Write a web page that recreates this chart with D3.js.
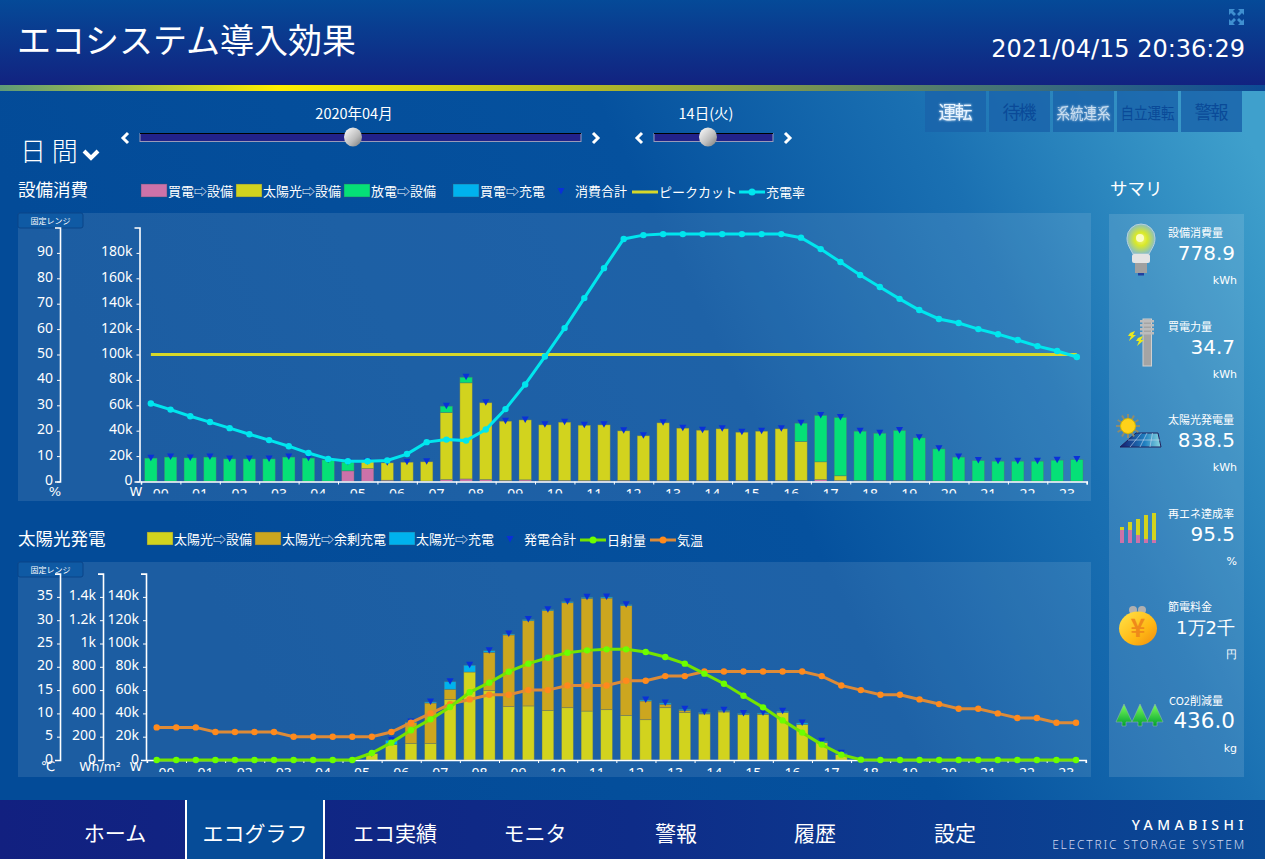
<!DOCTYPE html>
<html>
<head>
<meta charset="utf-8">
<script src="https://cdn.jsdelivr.net/npm/d3@7"></script>
<style>
  html, body { margin: 0; padding: 0; overflow: hidden; background: #034b98; }
  svg { display: block; }
  text { fill: #fff; font-family: "Noto Sans CJK JP", "Noto Sans", sans-serif; }
  .num { font-family: "DejaVu Sans", sans-serif; }
  .axis text { font-family: "Noto Sans", sans-serif; font-size: 14px; fill: #fff; }
  .axis path, .axis line { stroke: #fff; }
  .axis path { stroke-width: 1.6px; }
</style>
</head>
<body>
<svg id="page" width="1265" height="859"></svg>
<script>
// half hour slots, values in W
const hours = ["00","01","02","03","04","05","06","07","08","09","10","11","12","13","14","15","16","17","18","19","20","21","22","23"];
const slots = d3.range(48);

// 設備消費
const gridToEquip = [200,200,200,200,200,200,200,200,200,200,8400,10200,1000,500,300,1500,2000,1500,800,1300,800,800,700,800,900,800,800,700,800,800,800,800,800,800,1500,800,800,800,800,800,400,300,200,200,200,200,200,200];
const solarToEquip = [0,0,0,0,0,0,0,0,0,0,0,5300,13700,14700,15200,52800,75700,60500,46700,47200,43800,45900,43600,43800,39000,35200,45400,41300,39600,40700,38000,38800,40700,30700,14000,3700,0,0,0,0,0,0,0,0,0,0,0,0];
const dischargeToEquip = [18200,19000,18400,19000,17600,17600,17600,19000,18200,16800,6800,0,0,0,0,5000,4400,0,0,0,0,0,0,0,0,0,0,0,0,0,0,0,0,14400,36500,45900,38800,37200,39400,33600,25300,18900,16300,15800,15800,15800,16600,17100];
const gridToCharge = [0,0,0,0,0,0,0,0,0,0,0,0,0,0,0,0,0,0,0,0,0,0,0,0,0,0,0,0,0,0,0,0,0,0,0,0,0,0,0,0,0,0,0,0,0,0,0,0];
const chargeRate = [30.7,28.3,25.7,23.4,21,18.6,16.3,13.9,11.2,8.9,8,8,8.3,10.8,15.5,16.5,16.1,20.5,28.5,38.2,49.2,60.4,72.2,84,95.5,97,97.4,97.4,97.4,97.4,97.4,97.4,97.4,96,91.5,86.4,81.3,76.6,71.9,67.5,64,62.4,60,58,55.7,53.3,51.4,49];
const peakCut = 100000;

// 太陽光発電
const solarEquip = [0,0,0,0,0,0,0,0,0,0,0,5400,13200,14300,14300,52000,75500,59500,45800,46400,42600,44900,42000,43200,38300,34600,44900,40900,39500,41200,38900,39200,40900,30600,14900,4600,0,0,0,0,0,0,0,0,0,0,0,0];
const solarSurplus = [0,0,0,0,0,0,0,0,0,0,0,0,0,17800,34600,8700,0,32900,61500,73200,85600,90100,96800,95800,94200,16000,2900,1700,500,700,300,200,0,0,0,0,0,0,0,0,0,0,0,0,0,0,0,0];
const solarCharge = [0,0,0,0,0,0,0,0,0,0,0,0,3700,500,900,6500,5800,1400,800,900,800,900,800,900,800,900,1100,900,900,700,800,900,900,1200,1100,1100,0,0,0,0,0,0,0,0,0,0,0,0];
const irradiance = [0,0,0,0,0,0,0,0,0,0,0,60,149,255,349,455,581,664,758,827,878,921,941,950,950,927,884,827,741,655,552,452,340,235,132,46,3,0,0,0,0,0,0,0,0,0,0,0];
const temperature = [7,7,7,6,6,6,6,5,5,5,5,5,6,8,10,12,13,14,14,15,15,16,16,16,17,17,18,18,19,19,19,19,19,19,18,16,15,14,14,13,12,11,11,10,9,9,8,8];

// tick labels
const wattTicksTop = [0,20000,40000,60000,80000,100000,120000,140000,160000,180000];
const percentTicks = [0,10,20,30,40,50,60,70,80,90];
const wattTicksBottom = [0,20000,40000,60000,80000,100000,120000,140000];
const irradianceTicks = [0,200,400,600,800,1000,1200,1400];
const temperatureTicks = [0,5,10,15,20,25,30,35];

const summaryLabels = ["設備消費量","買電力量","太陽光発電量","再エネ達成率","節電料金","CO2削減量"];
const summaryValues = ["778.9","34.7","838.5","95.5","1万2千","436.0"];
const summaryUnits = ["kWh","kWh","kWh","%","円","kg"];
const navLabels = ["ホーム","エコグラフ","エコ実績","モニタ","警報","履歴","設定"];

const colors = { pink: "#cd72a9", yellow: "#d2d31e", green: "#05e077", blue: "#00b2ee", amber: "#cca61f", tri: "#0a30d8", cyan: "#00e6ee", peak: "#d6d82a", lime: "#75e400", limeDot: "#6cff00", orange: "#dd8b38", orangeDot: "#ff8a1c" };

const svg = d3.select("#page");
const defs = svg.append("defs");

function gradient(id, x1, y1, x2, y2, stops) {
  const g = defs.append("linearGradient").attr("id", id)
    .attr("x1", x1).attr("y1", y1).attr("x2", x2).attr("y2", y2);
  stops.forEach(s => g.append("stop").attr("offset", s[0]).attr("stop-color", s[1]));
}
gradient("bg", 0.1, 0.5, 1, 0.2, [[0, "#034b98"], [0.5, "#05519e"], [0.75, "#1a70b2"], [1, "#3fa0cc"]]);
gradient("head", 0, 0, 0, 1, [[0, "#054a98"], [1, "#122280"]]);
gradient("stripe", 0, 0, 1, 0, [[0, "#5f9a78"], [0.22, "#ffee00"], [0.45, "#b8bc22"], [0.75, "#4f7a70"], [1, "#0c4a96"]]);
gradient("foot", 0, 0, 1, 0, [[0, "#122080"], [0.5, "#0e2c88"], [1, "#0a4a96"]]);
gradient("knob", 0, 0, 1, 1, [[0, "#fff"], [0.6, "#bbb"], [1, "#777"]]);
gradient("coin", 0, 0, 1, 1, [[0, "#ffe44a"], [0.6, "#ffb814"], [1, "#f08a10"]]);
gradient("tree", 0, 0, 0, 1, [[0, "#7dff5a"], [1, "#00a030"]]);
gradient("panelCell", 0, 0, 1, 0, [[0, "#141a6e"], [0.6, "#1f7fc0"], [1, "#8ad8e0"]]);
const bulbGlow = defs.append("radialGradient").attr("id", "bulbGlow");
bulbGlow.append("stop").attr("offset", 0).attr("stop-color", "#f6f880");
bulbGlow.append("stop").attr("offset", 0.45).attr("stop-color", "#d8e82a");
bulbGlow.append("stop").attr("offset", 1).attr("stop-color", "#8cc0c0");
const glow = defs.append("filter").attr("id", "glow");
glow.append("feGaussianBlur").attr("stdDeviation", 1.1).attr("result", "b");
const glowMerge = glow.append("feMerge");
glowMerge.append("feMergeNode").attr("in", "b");
glowMerge.append("feMergeNode").attr("in", "SourceGraphic");

// page background, header, footer
svg.append("rect").attr("width", 1265).attr("height", 859).attr("fill", "url(#bg)");
svg.append("rect").attr("width", 1265).attr("height", 86).attr("fill", "url(#head)");
svg.append("rect").attr("y", 85).attr("width", 1265).attr("height", 6).attr("fill", "url(#stripe)");
svg.append("text").attr("x", 17).attr("y", 53).attr("font-size", 34).attr("font-weight", 400).text("エコシステム導入効果");
svg.append("text").attr("class", "num").attr("x", 1245).attr("y", 57).attr("text-anchor", "end").attr("font-size", 24).text("2021/04/15 20:36:29");

// expand icon
[[1229, 9, 1], [1244, 9, -1], [1229, 25, 1], [1244, 25, -1]].forEach(c => {
  const sy = c[1] < 15 ? 1 : -1;
  svg.append("path")
    .attr("d", `M${c[0]} ${c[1]}h${6 * c[2]}l${-2 * c[2]} ${2 * sy}l${3 * c[2]} ${3 * sy}l${-2 * c[2]} ${2 * sy}l${-3 * c[2]} ${-3 * sy}l${-2 * c[2]} ${2 * sy}z`)
    .attr("fill", "#3f8fd0");
});

// status buttons
const statusButtons = [["運転", true], ["待機", false], ["系統連系", true], ["自立運転", false], ["警報", false]];
statusButtons.forEach((b, i) => {
  const x = 925 + i * 64;
  svg.append("rect").attr("x", x).attr("y", 91).attr("width", 61).attr("height", 41).attr("fill", "#1a64aa").attr("opacity", 0.85);
  const t = svg.append("text").attr("x", x + 30.5).attr("y", 119).attr("text-anchor", "middle")
    .attr("font-size", b[0].length > 2 ? 16 : 18)
    .attr("textLength", b[0].length > 2 ? 54 : 34)
    .attr("lengthAdjust", b[0].length > 2 ? "spacingAndGlyphs" : "spacing")
    .text(b[0]);
  if (b[1]) t.attr("filter", "url(#glow)").style("fill", i === 0 ? "#e8f4ff" : "#c8ddf0");
  else t.style("fill", "#0a4a98");
});

// period selector
function chevron(x, y, dir) {
  svg.append("path").attr("d", `M${x - 3 * dir} ${y - 5}L${x + 2 * dir} ${y}L${x - 3 * dir} ${y + 5}`)
    .attr("fill", "none").attr("stroke", "#fff").attr("stroke-width", 3);
}
function slider(x0, x1, knob, label, labelX) {
  svg.append("rect").attr("x", x0).attr("y", 133.5).attr("width", x1 - x0).attr("height", 8).attr("fill", "#22228a").attr("stroke", "#9a9ab8");
  svg.append("line").attr("x1", x0).attr("x2", x1).attr("y1", 133.5).attr("y2", 133.5).attr("stroke", "#000");
  svg.append("ellipse").attr("cx", knob).attr("cy", 137).attr("rx", 9).attr("ry", 9.5).attr("fill", "url(#knob)");
  svg.append("text").attr("x", labelX).attr("y", 119).attr("text-anchor", "middle").attr("font-size", 14.5).text(label);
  chevron(x0 - 15, 138, -1);
  chevron(x1 + 15, 138, 1);
}
slider(140, 581, 353, "2020年04月", 354);
slider(654, 773, 708, "14日(火)", 706);
svg.append("text").attr("x", 20).attr("y", 161).attr("font-size", 26).attr("font-weight", 300).text("日 間");
svg.append("path").attr("d", "M84 151L91 158L98 151").attr("fill", "none").attr("stroke", "#fff").attr("stroke-width", 4);

svg.append("text").attr("x", 18).attr("y", 196).attr("font-size", 17.5).text("設備消費");
svg.append("text").attr("x", 18).attr("y", 545).attr("font-size", 17.5).text("太陽光発電");
svg.append("text").attr("x", 1110).attr("y", 195).attr("font-size", 17.5).text("サマリ");

// legends
function swatch(x, y, color, label) {
  svg.append("rect").attr("x", x).attr("y", y - 7).attr("width", 26).attr("height", 13).attr("fill", color).attr("stroke", "rgba(60,80,110,.45)");
  svg.append("text").attr("x", x + 27).attr("y", y + 5).attr("font-size", 13).text(label);
}
function triMark(g, x, y) {
  g.append("path").attr("d", `M${x - 3.5} ${y - 3}h7l-3.5 6.5z`).attr("fill", colors.tri);
}
function lineKey(x, y, color, dot, label) {
  svg.append("line").attr("x1", x).attr("x2", x + 26).attr("y1", y).attr("y2", y).attr("stroke", color).attr("stroke-width", 3);
  if (dot) svg.append("circle").attr("cx", x + 13).attr("cy", y).attr("r", 3.5).attr("fill", dot);
  svg.append("text").attr("x", x + 27).attr("y", y + 5).attr("font-size", 13).text(label);
}
swatch(141, 191, colors.pink, "買電⇨設備");
swatch(236, 191, colors.yellow, "太陽光⇨設備");
swatch(344, 191, colors.green, "放電⇨設備");
swatch(453, 191, colors.blue, "買電⇨充電");
triMark(svg, 561, 191);
svg.append("text").attr("x", 575).attr("y", 196).attr("font-size", 13).text("消費合計");
lineKey(632, 192, colors.peak, null, "ピークカット");
lineKey(739, 192, colors.cyan, colors.cyan, "充電率");

swatch(147, 539, colors.yellow, "太陽光⇨設備");
swatch(255, 539, colors.amber, "太陽光⇨余剰充電");
swatch(389, 539, colors.blue, "太陽光⇨充電");
triMark(svg, 510, 539);
svg.append("text").attr("x", 524).attr("y", 544).attr("font-size", 13).text("発電合計");
lineKey(580, 540, colors.lime, colors.limeDot, "日射量");
lineKey(650, 540, colors.orange, colors.orangeDot, "気温");

function rangeButton(y) {
  svg.append("rect").attr("x", 18).attr("y", y).attr("width", 65).attr("height", 15).attr("rx", 2)
    .attr("fill", "#0f5aa4").attr("stroke", "#0a4488");
  svg.append("text").attr("x", 50.5).attr("y", y + 11).attr("text-anchor", "middle").attr("font-size", 8).text("固定レンジ");
}

const wattFormat = d => d === 0 ? "0" : d / 1000 + "k";

function leftAxis(x, scale, values, format) {
  svg.append("g").attr("class", "axis").attr("transform", `translate(${x},0)`)
    .call(d3.axisLeft(scale).tickValues(values).tickSize(3).tickSizeOuter(5).tickPadding(4).tickFormat(format))
    .call(g => g.selectAll(".tick text").attr("dy", "0.22em"));
}

// one stacked bar chart with its x axis, returns the slot scale for the lines
function barChart(id, xStart, xEnd, baseY, yScale, series, barPadding) {
  const xBand = d3.scaleBand().domain(slots).range([xStart, xEnd]).paddingInner(barPadding).paddingOuter(barPadding / 2);
  const rows = slots.map(i => {
    const row = { slot: i };
    series.forEach(s => { row[s.key] = s.values[i]; });
    return row;
  });
  const stacked = d3.stack().keys(series.map(s => s.key))(rows);

  svg.append("g").selectAll("g").data(stacked).enter().append("g")
    .attr("fill", (d, i) => series[i].color)
    .selectAll("rect").data(d => d.filter(p => p[1] > p[0])).enter().append("rect")
    .attr("x", d => xBand(d.data.slot))
    .attr("y", d => yScale(d[1]))
    .attr("width", xBand.bandwidth())
    .attr("height", d => yScale(d[0]) - yScale(d[1]))
    .attr("stroke", "rgba(90,110,110,.55)")
    .attr("stroke-width", 0.7);

  // total markers
  const tri = svg.append("g");
  rows.forEach(r => {
    const total = d3.sum(series, s => r[s.key]);
    if (total > 0) triMark(tri, xBand(r.slot) + xBand.bandwidth() / 2, yScale(total) - 0.5);
  });

  // x axis: hour ticks on a linear scale, labels centered in each hour
  const xHour = d3.scaleLinear().domain([0, 24]).range([xStart, xEnd]);
  svg.append("g").attr("class", "axis").attr("transform", `translate(0,${baseY})`)
    .call(d3.axisBottom(xHour).tickValues(d3.range(0, 25)).tickSize(3).tickFormat(""));
  const clip = defs.append("clipPath").attr("id", id);
  clip.append("rect").attr("x", xStart - 10).attr("y", baseY).attr("width", xEnd - xStart + 20).attr("height", 12);
  const xLabels = d3.scaleBand().domain(hours).range([xStart, xEnd]);
  svg.append("g").attr("clip-path", `url(#${id})`).append("g").attr("class", "axis hours")
    .attr("transform", `translate(0,${baseY})`)
    .call(d3.axisBottom(xLabels).tickSize(0).tickPadding(8))
    .call(g => g.select(".domain").remove());

  return i => xBand(i) + xBand.bandwidth() / 2;
}

function seriesLine(values, xPos, yScale, color, dot) {
  const line = d3.line().x((d, i) => xPos(i)).y(d => yScale(d));
  svg.append("path").datum(values).attr("d", line).attr("fill", "none").attr("stroke", color).attr("stroke-width", 3);
  svg.append("g").selectAll("circle").data(values).enter().append("circle")
    .attr("cx", (d, i) => xPos(i)).attr("cy", d => yScale(d)).attr("r", 3.2).attr("fill", dot);
}

// top chart
svg.append("rect").attr("x", 18).attr("y", 213).attr("width", 1073).attr("height", 288).attr("fill", "rgba(255,255,255,.1)");
rangeButton(213);
const yPowerTop = d3.scaleLinear().domain([0, 200000]).range([481.5, 227.5]);
const yPercent = d3.scaleLinear().domain([0, 100]).range([481.5, 227.5]);
leftAxis(60, yPercent, percentTicks, d => d);
leftAxis(139.5, yPowerTop, wattTicksTop, wattFormat);
const xTop = barChart("clipTop", 141, 1086.7, 481.5, yPowerTop, [
  { key: "grid", values: gridToEquip, color: colors.pink },
  { key: "solar", values: solarToEquip, color: colors.yellow },
  { key: "discharge", values: dischargeToEquip, color: colors.green },
  { key: "charge", values: gridToCharge, color: colors.blue }
], 0.37);
svg.append("line").attr("x1", xTop(0)).attr("x2", xTop(47))
  .attr("y1", yPowerTop(peakCut)).attr("y2", yPowerTop(peakCut))
  .attr("stroke", colors.peak).attr("stroke-width", 3);
seriesLine(chargeRate, xTop, yPercent, colors.cyan, colors.cyan);
svg.append("text").attr("x", 55).attr("y", 496).attr("text-anchor", "middle").attr("font-size", 13).attr("class", "num").text("%");
svg.append("text").attr("x", 136).attr("y", 496).attr("text-anchor", "middle").attr("font-size", 13).attr("class", "num").text("W");

// bottom chart
svg.append("rect").attr("x", 18).attr("y", 562).attr("width", 1073).attr("height", 215).attr("fill", "rgba(255,255,255,.1)");
rangeButton(562);
const yPowerBottom = d3.scaleLinear().domain([0, 160000]).range([760, 573.6]);
const yIrradiance = d3.scaleLinear().domain([0, 1600]).range([760, 573.6]);
const yTemperature = d3.scaleLinear().domain([0, 40]).range([760, 573.6]);
leftAxis(60, yTemperature, temperatureTicks, d => d);
leftAxis(103, yIrradiance, irradianceTicks, d => d === 0 ? "0" : d >= 1000 ? d / 1000 + "k" : d);
leftAxis(146, yPowerBottom, wattTicksBottom, wattFormat);
const xBottom = barChart("clipBottom", 146.9, 1085.8, 760, yPowerBottom, [
  { key: "equip", values: solarEquip, color: colors.yellow },
  { key: "surplus", values: solarSurplus, color: colors.amber },
  { key: "charge", values: solarCharge, color: colors.blue }
], 0.4);
seriesLine(temperature, xBottom, yTemperature, colors.orange, colors.orangeDot);
seriesLine(irradiance, xBottom, yIrradiance, colors.lime, colors.limeDot);
svg.append("text").attr("x", 48).attr("y", 771).attr("text-anchor", "middle").attr("font-size", 13).attr("class", "num").text("℃");
svg.append("text").attr("x", 100).attr("y", 771).attr("text-anchor", "middle").attr("font-size", 12.5).attr("class", "num").text("Wh/m²");
svg.append("text").attr("x", 136).attr("y", 771).attr("text-anchor", "middle").attr("font-size", 13).attr("class", "num").text("W");

// summary panel
svg.append("rect").attr("x", 1109).attr("y", 214).attr("width", 135).attr("height", 563).attr("fill", "rgba(255,255,255,.12)");
const summaryStep = 93.6;
summaryLabels.forEach((label, i) => {
  const top = i * summaryStep;
  svg.append("text").attr("x", i === 5 ? 1169 : 1168).attr("y", 237 + top).attr("font-size", 11).text(label);
  svg.append("text").attr("class", "num").attr("x", 1235).attr("y", 260 + top).attr("text-anchor", "end").attr("font-size", i === 4 ? 18 : i === 5 ? 21.5 : 20).text(summaryValues[i]);
  svg.append("text").attr("class", "num").attr("x", 1237).attr("y", 284 + top).attr("text-anchor", "end").attr("font-size", 11).text(summaryUnits[i]);
});

// summary icons
function bulbIcon(g) {
  g.append("path").attr("d", "M1133 254C1130 248 1127 245 1127 238A14 14 0 0 1 1155 238C1155 245 1152 248 1149 254Z")
    .attr("fill", "url(#bulbGlow)").attr("stroke", "#b8d0dc");
  g.append("circle").attr("cx", 1140).attr("cy", 238).attr("r", 4).attr("fill", "#fbfcc0");
  g.append("rect").attr("x", 1132).attr("y", 254).attr("width", 18).attr("height", 9).attr("rx", 2).attr("fill", "#e4e4e4");
  g.append("rect").attr("x", 1135).attr("y", 263).attr("width", 12).attr("height", 10).attr("fill", "#a0a0a0");
  g.append("rect").attr("x", 1138).attr("y", 273).attr("width", 6).attr("height", 2.5).attr("fill", "#2040a0");
}
function poleIcon(g) {
  g.append("rect").attr("x", 1143).attr("y", 319).attr("width", 8.5).attr("height", 47).attr("fill", "#a4a4a4").attr("stroke", "#d0d0d0");
  d3.range(4).forEach(k => g.append("rect").attr("x", 1140).attr("y", 320 + k * 4).attr("width", 14).attr("height", 2.5).attr("fill", "#bcbcbc"));
  g.append("path").attr("d", "M1130 333l5 -2l-2 4l3 0l-7 6l2 -5l-3 0zM1138 338l5 -2l-2 4l3 0l-7 6l2 -5l-3 0z").attr("fill", "#e8e820");
}
function solarIcon(g) {
  g.append("path").attr("d", "M1136 433h22l3 14h-41z").attr("fill", "url(#panelCell)").attr("stroke", "#20205a");
  d3.range(1, 4).forEach(k => {
    g.append("line").attr("x1", 1136 + k * 5.5).attr("x2", 1120 + k * 10).attr("y1", 433).attr("y2", 447).attr("stroke", "#c8d8ee").attr("stroke-width", 0.6);
  });
  g.append("line").attr("x1", 1128).attr("x2", 1160).attr("y1", 440).attr("y2", 440).attr("stroke", "#c8d8ee").attr("stroke-width", 0.6);
  d3.range(12).forEach(k => {
    const a = k * Math.PI / 6;
    g.append("line").attr("x1", 1128).attr("y1", 426).attr("x2", 1128 + 12 * Math.cos(a)).attr("y2", 426 + 12 * Math.sin(a))
      .attr("stroke", "#8c8c70").attr("stroke-width", 2);
  });
  g.append("circle").attr("cx", 1128).attr("cy", 426).attr("r", 7.5).attr("fill", "#ffd21a").attr("stroke", "#d8b800");
}
function barsIcon(g) {
  const heights = [16, 21, 24, 28, 30];
  const pinks = [13, 13, 8, 4, 3];
  heights.forEach((h, k) => {
    const x = 1120 + k * 8;
    g.append("rect").attr("x", x).attr("y", 543 - h).attr("width", 4).attr("height", h).attr("fill", colors.yellow);
    g.append("rect").attr("x", x).attr("y", 543 - pinks[k]).attr("width", 4).attr("height", pinks[k]).attr("fill", colors.pink);
  });
}
function purseIcon(g) {
  g.append("circle").attr("cx", 1133).attr("cy", 610).attr("r", 4).attr("fill", "#b0b0b0");
  g.append("circle").attr("cx", 1142).attr("cy", 610).attr("r", 4).attr("fill", "#b0b0b0");
  g.append("ellipse").attr("cx", 1138).attr("cy", 628.5).attr("rx", 19).attr("ry", 17).attr("fill", "url(#coin)");
  g.append("text").attr("x", 1138).attr("y", 637).attr("text-anchor", "middle").attr("font-size", 25).attr("font-weight", 700).style("fill", "#ef8a1a").text("¥");
}
function treeIcon(g) {
  [1124, 1140, 1155].forEach(x => {
    g.append("path").attr("d", `M${x} 704l8 18h-6v4h-4v-4h-6z`).attr("fill", "url(#tree)").attr("stroke", "#8ab0b0").attr("stroke-width", 0.6);
  });
}
const icons = svg.append("g");
bulbIcon(icons); poleIcon(icons); solarIcon(icons); barsIcon(icons); purseIcon(icons); treeIcon(icons);

// footer nav
svg.append("rect").attr("y", 800).attr("width", 1265).attr("height", 59).attr("fill", "url(#foot)");
svg.append("rect").attr("x", 186).attr("y", 800).attr("width", 138).attr("height", 59).attr("fill", "#064c98");
[186, 324].forEach(x => svg.append("line").attr("x1", x).attr("x2", x).attr("y1", 800).attr("y2", 859).attr("stroke", "#fff").attr("stroke-width", 2));
const navX = [115, 255, 395, 535, 676, 815, 955];
navLabels.forEach((label, i) => {
  svg.append("text").attr("x", navX[i]).attr("y", 841).attr("text-anchor", "middle").attr("font-size", 21).text(label);
});
svg.append("text").attr("x", 1248).attr("y", 830).attr("text-anchor", "end").attr("font-size", 14).attr("font-weight", 500).attr("letter-spacing", 4.5).style("font-family", "Noto Sans").text("YAMABISHI");
svg.append("text").attr("x", 1246).attr("y", 849).attr("text-anchor", "end").attr("font-size", 12).attr("letter-spacing", 1.8).attr("font-weight", 300).style("font-family", "Noto Sans").style("fill", "#d0d8f0").text("ELECTRIC STORAGE SYSTEM");
</script>
</body>
</html>
